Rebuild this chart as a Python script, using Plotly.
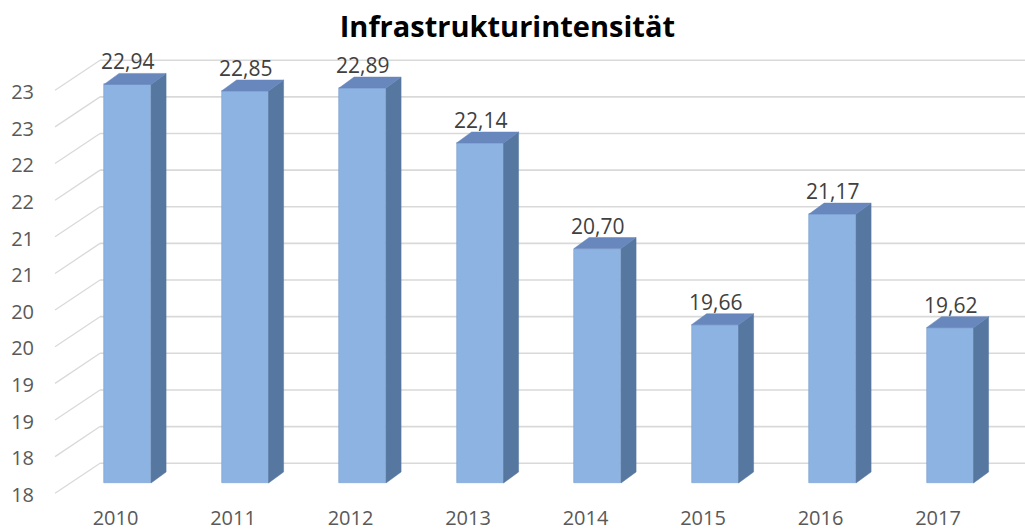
import plotly.graph_objects as go

# ---- data ----
years = ["2010", "2011", "2012", "2013", "2014", "2015", "2016", "2017"]
values = [22.94, 22.85, 22.89, 22.14, 20.70, 19.66, 21.17, 19.62]
value_labels = ["22,94", "22,85", "22,89", "22,14", "20,70", "19,66", "21,17", "19,62"]
y_tick_vals = [17.5, 18.0, 18.5, 19.0, 19.5, 20.0, 20.5, 21.0, 21.5, 22.0, 22.5, 23.0]
y_tick_text = ["18", "18", "19", "19", "20", "20", "21", "21", "22", "22", "23", "23"]

# ---- styling / geometry (pseudo 3D) ----
BASE = 17.5
BAR_W = 0.40
DX = 0.128      # depth offset in x units
DY = 0.15       # depth offset in y units
BACK_DY = 0.27  # back wall offset
FRONT_DY = -0.14
BACK_X = -0.234
FRONT_X = -0.617
X_RANGE = [-0.745, 7.638]
Y_RANGE = [17.268, 23.5459]

FRONT = "#8DB3E2"
FRONT_LINE = "#7A9FD0"
SIDE = "#56779F"
TOP = "#6787BD"
GRID = "#D9D9D9"

xs = list(range(len(years)))

fig = go.Figure()

# back wall gridlines and side wall diagonals
shapes = []
for t in y_tick_vals:
    shapes.append(dict(type="line", xref="x", yref="y", x0=BACK_X, x1=X_RANGE[1],
                       y0=t + BACK_DY, y1=t + BACK_DY, line=dict(color=GRID, width=1.6), layer="below"))
    shapes.append(dict(type="line", xref="x", yref="y", x0=FRONT_X, x1=BACK_X,
                       y0=t + FRONT_DY, y1=t + BACK_DY, line=dict(color=GRID, width=1.3), layer="below"))

# side faces
sx, sy = [], []
for x, v in zip(xs, values):
    r = x + BAR_W / 2
    sx += [r, r + DX, r + DX, r, r, None]
    sy += [BASE, BASE + DY, v + DY, v, BASE, None]
fig.add_trace(go.Scatter(x=sx, y=sy, fill="toself", fillcolor=SIDE, mode="lines",
                         line=dict(color=SIDE, width=0.5), hoverinfo="skip", showlegend=False))

# top faces
tx, ty = [], []
for x, v in zip(xs, values):
    l, r = x - BAR_W / 2, x + BAR_W / 2
    tx += [l, r, r + DX, l + DX, l, None]
    ty += [v, v, v + DY, v + DY, v, None]
fig.add_trace(go.Scatter(x=tx, y=ty, fill="toself", fillcolor=TOP, mode="lines",
                         line=dict(color=TOP, width=0.5), hoverinfo="skip", showlegend=False))

# front faces
fig.add_trace(go.Bar(x=xs, y=[v - BASE for v in values], base=BASE, width=BAR_W,
                     marker=dict(color=FRONT, line=dict(color=FRONT_LINE, width=0.6)),
                     showlegend=False, hoverinfo="skip"))

annotations = []
for x, v, lab in zip(xs, values, value_labels):
    annotations.append(dict(x=x, y=v, xref="x", yref="y", text=lab, showarrow=False,
                            yshift=23, yanchor="middle",
                            font=dict(family="Open Sans", size=21, color="#404040")))

fig.update_layout(
    width=1025, height=531,
    margin=dict(l=40, r=0, t=40, b=31),
    paper_bgcolor="white", plot_bgcolor="white",
    title=dict(text="<b>Infrastrukturintensität</b>", x=0.495, xanchor="center",
               y=0.949, yanchor="middle",
               font=dict(family="Open Sans", size=29, color="#000000")),
    shapes=shapes,
    annotations=annotations,
    bargap=0,
    xaxis=dict(range=X_RANGE, tickvals=xs, ticktext=years, showgrid=False, zeroline=False,
               showline=False, ticks="", ticklabelshift=-12, ticklabelstandoff=4,
               automargin=False,
               tickfont=dict(family="Open Sans", size=20, color="#595959")),
    yaxis=dict(range=Y_RANGE, tickvals=y_tick_vals, ticktext=y_tick_text, showgrid=False,
               zeroline=False, showline=False, ticks="", ticklabelshift=12,
               ticklabelstandoff=5, automargin=False,
               tickfont=dict(family="Open Sans", size=20, color="#595959")),
)

fig.write_html("out.html", config={"displayModeBar": False},
               post_script="document.body.style.margin='0';")
